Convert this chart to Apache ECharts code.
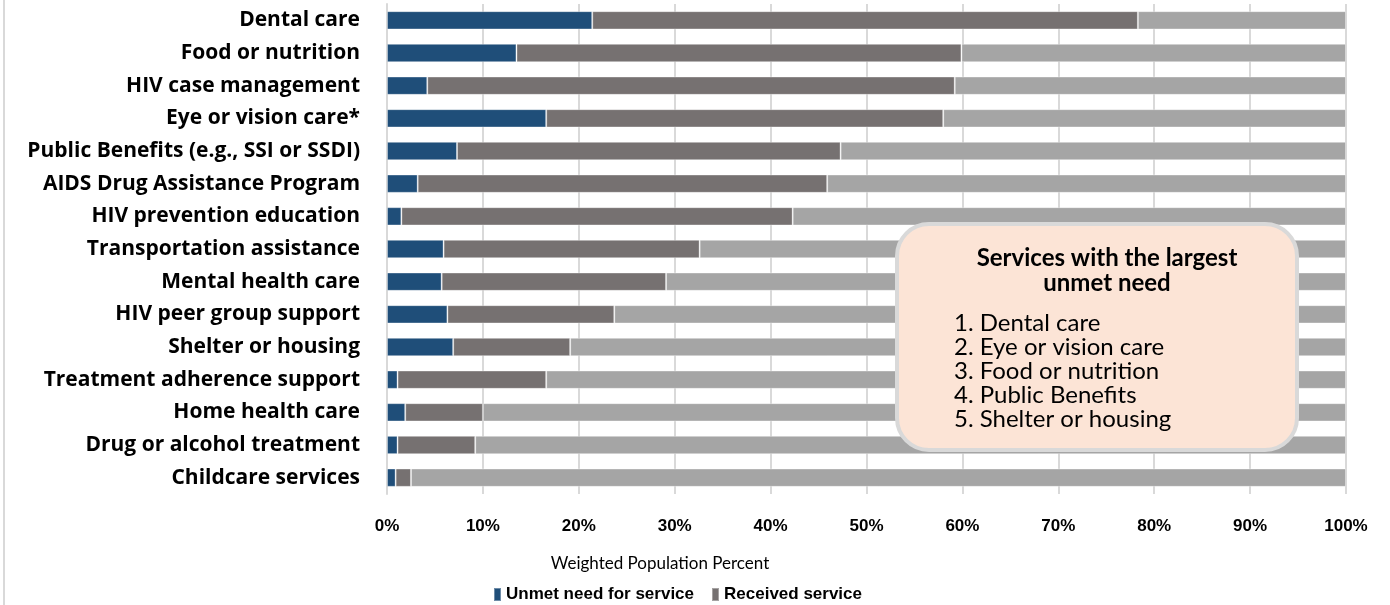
<!DOCTYPE html>
<html>
<head>
<meta charset="utf-8">
<script src="https://cdn.jsdelivr.net/npm/echarts@6/dist/echarts.min.js"></script>
<style>
html,body{margin:0;padding:0;background:#fff;}
#chart{width:1390px;height:605px;}
</style>
</head>
<body>
<div id="chart"></div>
<script>
const categories = [
  'Dental care',
  'Food or nutrition',
  'HIV case management',
  'Eye or vision care*',
  'Public Benefits (e.g., SSI or SSDI)',
  'AIDS Drug Assistance Program',
  'HIV prevention education',
  'Transportation assistance',
  'Mental health care',
  'HIV peer group support',
  'Shelter or housing',
  'Treatment adherence support',
  'Home health care',
  'Drug or alcohol treatment',
  'Childcare services'
];
const unmetNeed = [21.4, 13.5, 4.2, 16.6, 7.3, 3.2, 1.5, 5.9, 5.7, 6.3, 6.9, 1.1, 1.9, 1.1, 0.9];
const receivedService = [56.9, 46.4, 55.0, 41.4, 40.0, 42.7, 40.8, 26.7, 23.4, 17.4, 12.2, 15.5, 8.1, 8.1, 1.6];
const noNeed = unmetNeed.map((u, i) => +(100 - u - receivedService[i]).toFixed(1));
const xTicks = [0, 10, 20, 30, 40, 50, 60, 70, 80, 90, 100];
const boxTitle = ['Services with the largest', 'unmet need'];
const boxItems = ['1. Dental care', '2. Eye or vision care', '3. Food or nutrition', '4. Public Benefits', '5. Shelter or housing'];
const seriesNames = ['Unmet need for service', 'Received service', 'No need'];

const chart = echarts.init(document.getElementById('chart'), null, {renderer: 'canvas'});
const barStyle = (c) => ({color: c, borderColor: 'rgba(255,255,255,0.35)', borderWidth: 1});
const option = {
  animation: false,
  backgroundColor: '#ffffff',
  grid: {left: 387, right: 44, top: 4, bottom: 111, containLabel: false},
  xAxis: {
    type: 'value', min: 0, max: 100, interval: 10,
    axisLine: {show: false}, axisTick: {show: false},
    splitLine: {lineStyle: {color: '#d9d9d9', width: 2}},
    axisLabel: {
      formatter: v => xTicks.includes(v) ? v + '%' : '',
      margin: 24, color: '#000',
      fontFamily: '"Liberation Sans", Arial, sans-serif',
      fontWeight: 'bold', fontSize: 17
    }
  },
  yAxis: {
    type: 'category', data: categories, inverse: true,
    axisLine: {show: true, lineStyle: {color: '#d9d9d9', width: 2}},
    axisTick: {show: false},
    axisLabel: {
      margin: 27, color: '#000',
      fontFamily: '"Open Sans", "Liberation Sans", sans-serif',
      fontWeight: 'bold', fontSize: 21
    }
  },
  legend: {
    data: [seriesNames[0], seriesNames[1]],
    left: 488, top: 581,
    itemWidth: 7, itemHeight: 13, itemGap: 17,
    icon: 'rect',
    textStyle: {
      color: '#000', fontWeight: 'bold', fontSize: 17,
      fontFamily: '"Liberation Sans", Arial, sans-serif'
    }
  },
  series: [
    {name: seriesNames[0], type: 'bar', stack: 'total', data: unmetNeed, barCategoryGap: '44%', itemStyle: barStyle('#1f4e79')},
    {name: seriesNames[1], type: 'bar', stack: 'total', data: receivedService, itemStyle: barStyle('#767171')},
    {name: seriesNames[2], type: 'bar', stack: 'total', data: noNeed, itemStyle: barStyle('#a5a5a5')}
  ],
  graphic: [
    {type: 'line', shape: {x1: 4, y1: 0, x2: 4, y2: 605}, style: {stroke: '#d9d9d9', lineWidth: 2}, z: 10},
    {type: 'text', x: 660, y: 564,
     style: {text: 'Weighted Population Percent', textAlign: 'center', textVerticalAlign: 'middle', fill: '#000', font: '17px Lato, "Liberation Sans", sans-serif'}},
    {type: 'rect', shape: {x: 897, y: 224, width: 400, height: 226, r: 32},
     style: {fill: '#fce4d6', stroke: '#d9d9d9', lineWidth: 4}, z: 20},
    {type: 'text', x: 1107, y: 258, z: 21,
     style: {text: boxTitle[0], textAlign: 'center', textVerticalAlign: 'middle', fill: '#000', font: 'bold 24px Lato, "Open Sans", sans-serif'}},
    {type: 'text', x: 1107, y: 283, z: 21,
     style: {text: boxTitle[1], textAlign: 'center', textVerticalAlign: 'middle', fill: '#000', font: 'bold 24px Lato, "Open Sans", sans-serif'}},
    ...boxItems.map((t, i) => ({type: 'text', x: 954, y: 323 + i * 24, z: 21,
      style: {text: t, textAlign: 'left', textVerticalAlign: 'middle', fill: '#000', font: '24px Lato, "Open Sans", sans-serif'}}))
  ]
};
chart.setOption(option);
</script>
</body>
</html>
